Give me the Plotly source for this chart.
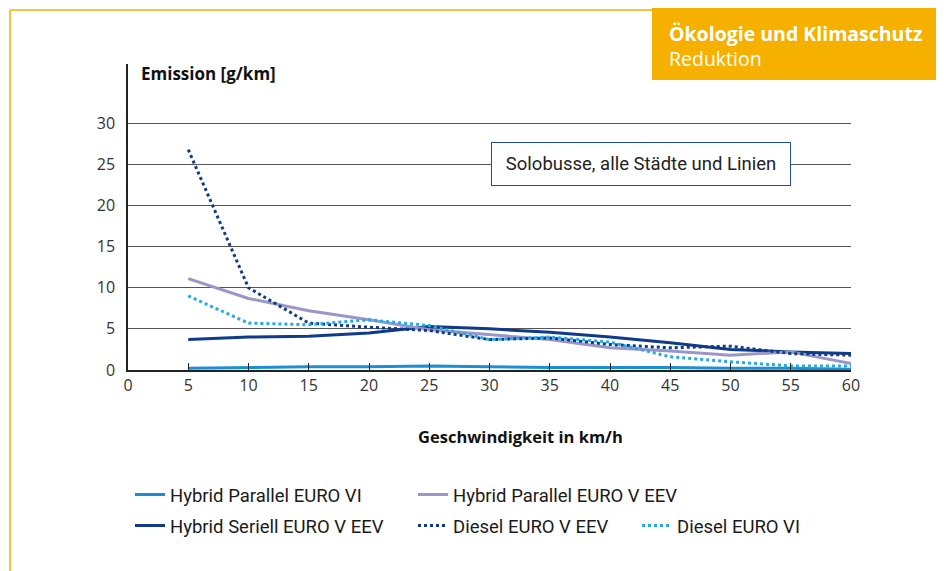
import plotly.graph_objects as go

# Geschwindigkeit (km/h)
speed = [5, 10, 15, 20, 25, 30, 35, 40, 45, 50, 55, 60]

# Emission [g/km] je Antrieb
hybrid_parallel_vi = [0.2, 0.3, 0.4, 0.4, 0.5, 0.4, 0.3, 0.3, 0.3, 0.2, 0.2, 0.1]
hybrid_seriell_eev = [3.7, 4.0, 4.1, 4.5, 5.3, 5.0, 4.6, 4.0, 3.3, 2.5, 2.2, 2.0]
hybrid_parallel_eev = [11.1, 8.7, 7.2, 6.1, 4.9, 4.3, 3.7, 2.7, 2.3, 1.8, 2.2, 0.8]
diesel_eev = [26.8, 10.0, 5.7, 5.2, 4.8, 3.7, 3.9, 3.1, 2.7, 2.9, 2.0, 1.8]
diesel_vi = [9.0, 5.7, 5.5, 6.1, 5.4, 3.7, 4.0, 3.4, 1.6, 1.0, 0.5, 0.5]

x_ticks = list(range(0, 65, 5))
y_ticks = [0, 5, 10, 15, 20, 25, 30]

NAVY = "#0f3b88"
BLUE = "#1b8fd6"
CYAN = "#22aaea"
LILA = "#9b96c9"
ORANGE = "#f6b100"

# Fenster-Pixel -> Papier-Koordinaten (Plotfläche 128..851 x 64..370)
def px(x):
    return (x - 128) / 723

def py(y):
    return (370 - y) / 306

# name, werte, farbe, strich, legende, legenden-position (links, zeile oben)
series = [
    ("Hybrid Parallel EURO VI", hybrid_parallel_vi, BLUE, "solid", "legend", 130, 476),
    ("Hybrid Seriell EURO V EEV", hybrid_seriell_eev, NAVY, "solid", "legend2", 130, 507),
    ("Hybrid Parallel EURO V EEV", hybrid_parallel_eev, LILA, "solid", "legend3", 413, 476),
    ("Diesel EURO V EEV", diesel_eev, NAVY, "dot", "legend4", 413, 507),
    ("Diesel EURO VI", diesel_vi, CYAN, "dot", "legend5", 637, 507),
]

fig = go.Figure()
legends = {}
leg_font = dict(family="Roboto", size=18.5, color="#1a1a1a")
for name, vals, col, dash, leg, lx, ly in series:
    fig.add_trace(go.Scatter(
        x=speed, y=vals, name=name, mode="lines",
        line=dict(color=col, width=3, dash=dash),
        legend=leg,
    ))
    legends[leg] = dict(x=px(lx), y=py(ly), xanchor="left", yanchor="top",
                        orientation="v", font=leg_font, itemwidth=30,
                        bgcolor="rgba(0,0,0,0)")

fig.update_layout(**legends)

fig.update_layout(
    width=936, height=563,
    margin=dict(l=120, r=93, t=56, b=201),
    paper_bgcolor="white", plot_bgcolor="white",
    font=dict(family="Open Sans", size=16, color="#333333"),
    showlegend=True,
    xaxis=dict(
        range=[0, 60], tickvals=x_ticks, showgrid=False,
        showline=True, linecolor="#222222", linewidth=1.5,
        ticks="inside", ticklen=7, tickcolor="#222222",
        tickfont=dict(family="Open Sans", size=16, color="#333333"),
        zeroline=False, fixedrange=True,
    ),
    yaxis=dict(
        range=[0, 37.2], tickvals=y_ticks, showgrid=True,
        gridcolor="#555555", gridwidth=1,
        showline=True, linecolor="#222222", linewidth=1.5,
        ticks="", ticklabelstandoff=8,
        tickfont=dict(family="Open Sans", size=16, color="#333333"),
        zeroline=False, fixedrange=True,
    ),
    shapes=[
        # oranger Rahmen
        dict(type="line", xref="paper", yref="paper", x0=px(10), x1=px(652),
             y0=py(10), y1=py(10), line=dict(color="#f8c23a", width=2)),
        dict(type="line", xref="paper", yref="paper", x0=px(10), x1=px(10),
             y0=py(10), y1=py(575), line=dict(color="#f8c23a", width=2)),
        # Kapitelbox
        dict(type="rect", xref="paper", yref="paper", x0=px(652), x1=px(946),
             y0=py(80), y1=py(8), fillcolor=ORANGE, line=dict(width=0), layer="above"),
    ],
    annotations=[
        dict(text="<b>Ökologie und Klimaschutz</b><br>Reduktion", xref="paper", yref="paper",
             x=px(667), y=py(46), xanchor="left", yanchor="middle", align="left",
             showarrow=False,
             font=dict(family="Open Sans", size=19.5, color="white")),
        dict(text="<b>Emission [g/km]</b>", xref="paper", yref="paper",
             x=px(139), y=py(73), xanchor="left", yanchor="middle", showarrow=False,
             font=dict(family="Open Sans", size=17, color="#111111")),
        dict(text="<b>Geschwindigkeit in km/h</b>", xref="paper", yref="paper",
             x=px(520), y=py(436), xanchor="center", yanchor="middle", showarrow=False,
             font=dict(family="Open Sans", size=16.5, color="#111111")),
        dict(text="Solobusse, alle Städte und Linien", xref="paper", yref="paper",
             x=px(641), y=py(164), xanchor="center", yanchor="middle", showarrow=False,
             width=290, height=34, borderpad=4, bgcolor="white",
             bordercolor="#1f4f9e", borderwidth=1,
             font=dict(family="Roboto", size=18.5, color="#222222")),
    ],
)

fig.write_html("out.html")
